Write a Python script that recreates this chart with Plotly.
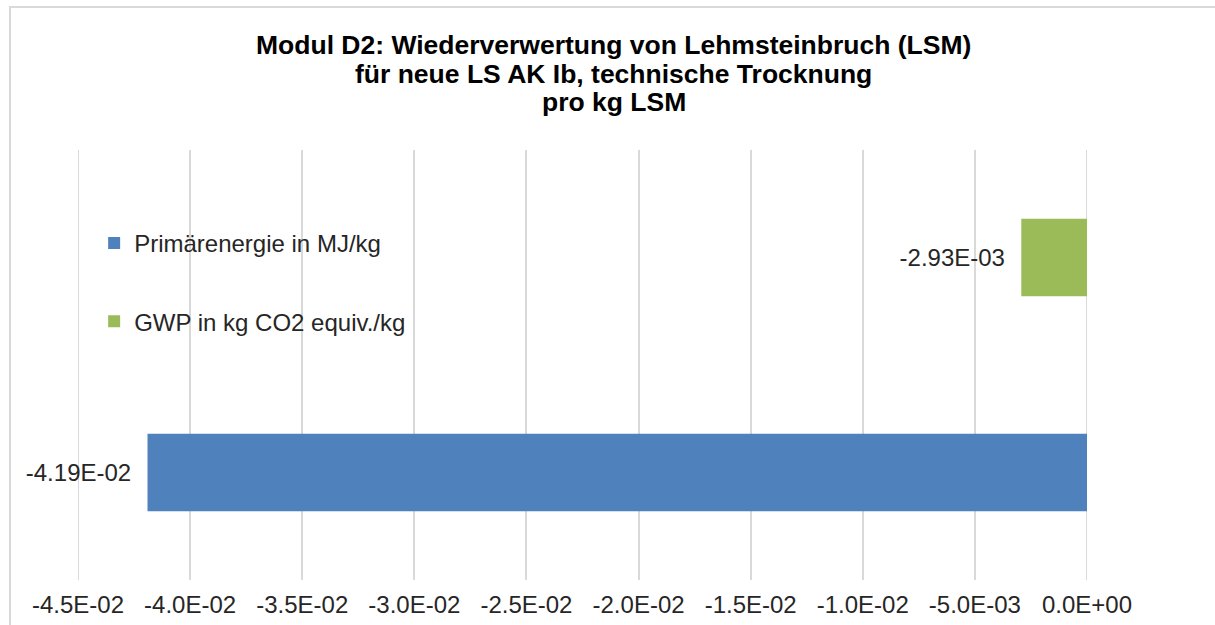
import plotly.graph_objects as go

# Daten
series_names = ["Primärenergie in MJ/kg", "GWP in kg CO2 equiv./kg"]
series_values = [-4.19e-02, -2.93e-03]
series_labels = ["-4.19E-02", "-2.93E-03"]
series_colors = ["#4f81bd", "#9bbb59"]
categories = ["Primärenergie", "GWP"]

tick_vals = [-0.045, -0.040, -0.035, -0.030, -0.025, -0.020, -0.015, -0.010, -0.005, 0.0]
tick_text = ["-4.5E-02", "-4.0E-02", "-3.5E-02", "-3.0E-02", "-2.5E-02",
             "-2.0E-02", "-1.5E-02", "-1.0E-02", "-5.0E-03", "0.0E+00"]

title_lines = ["Modul D2: Wiederverwertung von Lehmsteinbruch (LSM)",
               "für neue LS AK Ib, technische Trocknung",
               "pro kg LSM"]

FONT = "Liberation Sans, Arial, sans-serif"
NBSP = "\u00a0\u00a0"
GRID = "#d9d9d9"

fig = go.Figure()
for i in range(len(series_names)):
    fig.add_trace(go.Bar(
        x=[series_values[i]],
        y=[categories[i]],
        orientation="h",
        name=series_names[i],
        legendgroup=str(i),
        marker=dict(color=series_colors[i], line=dict(width=0)),
        width=0.36,
        text=[series_labels[i] + NBSP],
        textposition="outside",
        textfont=dict(size=24, color="#262626", family=FONT),
        cliponaxis=False,
    ))

# Titel als drei Zeilen (engerer Zeilenabstand wie im Original)
title_y = [1.2442, 1.1767, 1.1116]
annotations = []
for line, yy in zip(title_lines, title_y):
    annotations.append(dict(
        text="<b>" + line + "</b>", xref="paper", yref="paper",
        x=0.531, y=yy, xanchor="center", yanchor="middle",
        showarrow=False, font=dict(size=26.5, color="black", family=FONT),
    ))

# Rahmen + Gitterlinien an den Achsenenden (plotly blendet diese sonst aus)
shapes = [dict(
    type="rect", xref="paper", yref="paper",
    x0=-0.0674, x1=1.2, y0=-0.2, y1=1.3326,
    line=dict(color=GRID, width=2), fillcolor="rgba(0,0,0,0)",
    layer="below",
)]
for v in (tick_vals[0], tick_vals[-1]):
    shapes.append(dict(type="line", xref="x", yref="paper", x0=v, x1=v, y0=0, y1=1,
                       line=dict(color=GRID, width=2), layer="below"))

fig.update_layout(
    width=1215, height=625,
    paper_bgcolor="white", plot_bgcolor="white",
    margin=dict(l=78, r=128, t=150, b=45),
    barmode="overlay",
    font=dict(family=FONT, color="#262626"),
    annotations=annotations,
    shapes=shapes,
    legend=dict(
        x=0.016, y=0.835, xanchor="left", yanchor="top",
        font=dict(size=24, color="#262626", family=FONT),
        bgcolor="rgba(0,0,0,0)",
        tracegroupgap=44,
        traceorder="grouped",
        itemwidth=30,
    ),
    xaxis=dict(
        range=[-0.045, 0],
        tickvals=tick_vals, ticktext=tick_text,
        showgrid=True, gridcolor=GRID, gridwidth=2,
        zeroline=False, showline=False,
        ticks="outside", ticklen=3, tickcolor="rgba(0,0,0,0)",
        tickfont=dict(size=24, color="#262626", family=FONT),
        automargin=False,
    ),
    yaxis=dict(
        categoryorder="array", categoryarray=categories,
        range=[-0.5, 1.5],
        showticklabels=False, showgrid=False, zeroline=False, showline=False,
        automargin=False,
    ),
)

fig.write_html("out.html", config={"displayModeBar": False},
               post_script="document.body.style.margin='0';")
